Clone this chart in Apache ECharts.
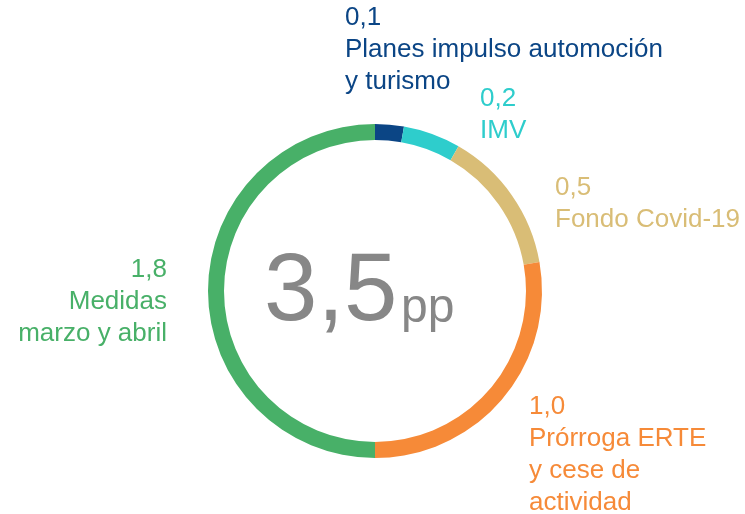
<!DOCTYPE html>
<html>
<head>
<meta charset="utf-8">
<script src="https://cdn.jsdelivr.net/npm/echarts@6/dist/echarts.min.js"></script>
<style>
html,body{margin:0;padding:0;background:#fff;}
#chart{width:745px;height:514px;}
</style>
</head>
<body>
<div id="chart"></div>
<script>
// Data
var categories = ['Planes impulso automoción\ny turismo', 'IMV', 'Fondo Covid-19', 'Prórroga ERTE\ny cese de\nactividad', 'Medidas\nmarzo y abril'];
var values = [0.1, 0.2, 0.5, 1.0, 1.8];
var totalLabel = '3,5';
var unitLabel = 'pp';

// Styles
var colors = ['#0b4585', '#2ecdcc', '#d9bd76', '#f68a38', '#48b068'];
var labelPos = [
  {x: 345, y: 2, align: 'left'},
  {x: 480, y: 83, align: 'left'},
  {x: 555, y: 172, align: 'left'},
  {x: 529, y: 391, align: 'left'},
  {x: 167, y: 254, align: 'right'}
];

function fmt(v){ return v.toFixed(1).replace('.', ','); }

var chart = echarts.init(document.getElementById('chart'), null, {renderer: 'canvas'});
chart.setOption({
  animation: false,
  series: [{
    type: 'pie',
    center: [375, 291],
    radius: [151, 167],
    startAngle: 90,
    clockwise: true,
    silent: true,
    avoidLabelOverlap: false,
    itemStyle: {borderWidth: 0},
    labelLine: {show: false},
    label: {
      show: true,
      position: 'outside',
      fontFamily: 'Liberation Sans, Arial, sans-serif',
      fontSize: 26,
      lineHeight: 32,
      formatter: function(p){ return fmt(p.value) + '\n' + p.name; }
    },
    labelLayout: function(params){
      var lp = labelPos[params.dataIndex];
      return {x: lp.x, y: lp.y, align: lp.align, verticalAlign: 'top'};
    },
    data: categories.map(function(c, i){
      return {
        name: c,
        value: values[i],
        itemStyle: {color: colors[i]},
        label: {color: colors[i], align: labelPos[i].align}
      };
    })
  }],
  graphic: [
    {type: 'text', left: 264, top: 246, style: {text: totalLabel, font: '96px "Liberation Sans", Arial, sans-serif', fill: '#878787'}},
    {type: 'text', left: 401, top: 285, style: {text: unitLabel, font: '48px "Liberation Sans", Arial, sans-serif', fill: '#878787'}}
  ]
});
</script>
</body>
</html>
